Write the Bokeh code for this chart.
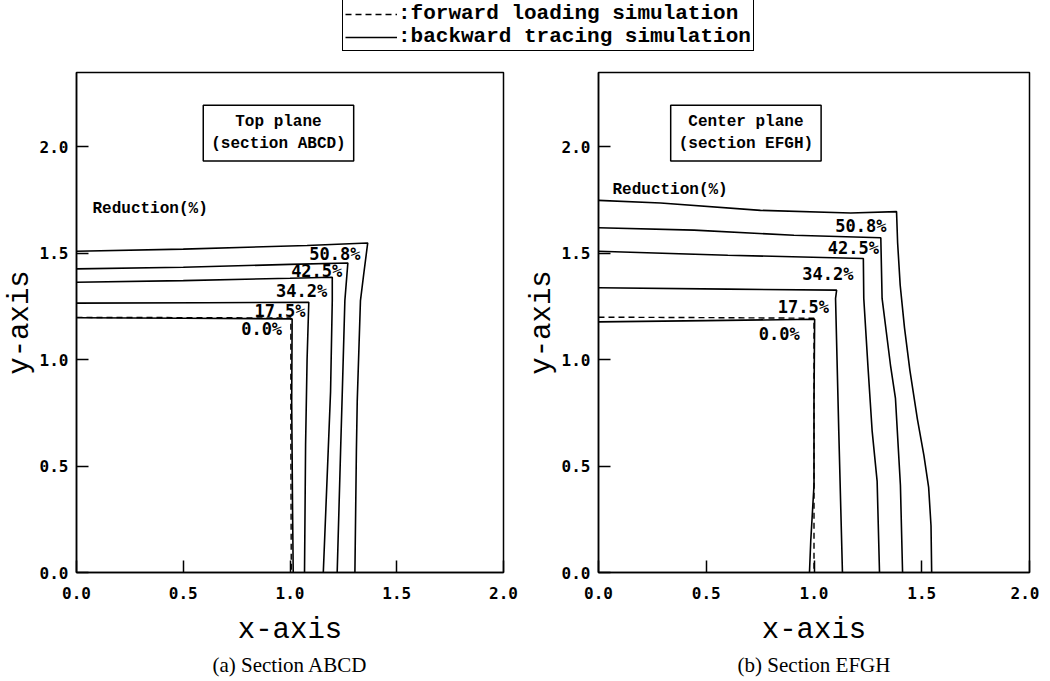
from bokeh.plotting import figure
from bokeh.models import (Range1d, Label, Legend, LegendItem, Title, FixedTicker,
                          PrintfTickFormatter, ColumnDataSource)
from bokeh.layouts import column, row
from bokeh.core.properties import value
from bokeh.embed import file_html
from bokeh.resources import INLINE

# ---------------- data ----------------
levels = ["0.0%", "17.5%", "34.2%", "42.5%", "50.8%"]
tick_values = [0.0, 0.5, 1.0, 1.5, 2.0]

# (a) Section ABCD - backward tracing (solid)
abcd_00_x = [0.0, 0.5, 1.010, 1.008, 1.012, 1.015]
abcd_00_y = [1.197, 1.195, 1.192, 0.80, 0.30, 0.0]
abcd_175_x = [0.0, 0.6, 1.088, 1.080, 1.073, 1.068]
abcd_175_y = [1.266, 1.268, 1.270, 1.00, 0.60, 0.0]
abcd_342_x = [0.0, 0.5, 1.0, 1.198, 1.198, 1.190, 1.179, 1.156]
abcd_342_y = [1.364, 1.372, 1.383, 1.388, 1.278, 0.85, 0.573, 0.0]
abcd_425_x = [0.0, 0.5, 1.0, 1.271, 1.257, 1.245, 1.237, 1.221]
abcd_425_y = [1.427, 1.435, 1.448, 1.455, 1.278, 0.85, 0.573, 0.0]
abcd_508_x = [0.0, 0.5, 1.08, 1.364, 1.345, 1.330, 1.315, 1.311, 1.304]
abcd_508_y = [1.510, 1.520, 1.537, 1.549, 1.40, 1.278, 0.808, 0.573, 0.0]
# (a) forward loading (dashed)
abcd_fw_x = [0.0, 0.5, 1.004, 1.004, 1.006]
abcd_fw_y = [1.199, 1.198, 1.196, 0.60, 0.0]

# (b) Section EFGH - backward tracing (solid)
efgh_00_x = [0.0, 0.5, 1.003, 1.0, 1.0, 0.985, 0.979]
efgh_00_y = [1.178, 1.184, 1.190, 0.80, 0.41, 0.15, 0.0]
efgh_175_x = [0.0, 0.6, 1.105, 1.100, 1.115, 1.132]
efgh_175_y = [1.338, 1.332, 1.327, 1.288, 0.663, 0.0]
efgh_342_x = [0.0, 0.6, 1.229, 1.231, 1.250, 1.270, 1.293, 1.304]
efgh_342_y = [1.510, 1.491, 1.476, 1.288, 0.974, 0.663, 0.428, 0.0]
efgh_425_x = [0.0, 0.443, 0.907, 1.310, 1.316, 1.355, 1.378, 1.401, 1.411]
efgh_425_y = [1.620, 1.609, 1.585, 1.573, 1.288, 0.974, 0.818, 0.41, 0.0]
efgh_508_x = [0.0, 0.288, 0.752, 1.17, 1.383, 1.388, 1.40, 1.42, 1.445, 1.48, 1.51, 1.532, 1.543, 1.546]
efgh_508_y = [1.749, 1.737, 1.702, 1.690, 1.696, 1.55, 1.35, 1.15, 0.95, 0.72, 0.55, 0.40, 0.22, 0.0]
# (b) forward loading (dashed)
efgh_fw_x = [0.0, 0.5, 1.0, 1.0, 1.0]
efgh_fw_y = [1.200, 1.198, 1.195, 0.60, 0.0]

# contour label anchors (right edge / middle)
abcd_label_x = [0.963, 1.073, 1.174, 1.245, 1.330]
abcd_label_y = [1.143, 1.228, 1.325, 1.415, 1.497]
efgh_label_x = [0.934, 1.069, 1.183, 1.301, 1.336]
efgh_label_y = [1.122, 1.247, 1.404, 1.523, 1.628]

legend_labels = [":forward loading simulation", ":backward tracing simulation"]

BLACK = "black"


def make_panel(width, bl, br, title_text, title_x, red_x, red_y, caption,
               contours, fw, lab_x, lab_y):
    p = figure(width=width, height=613, x_range=Range1d(0, 2.0), y_range=Range1d(0, 2.35),
               output_backend="svg", toolbar_location=None,
               min_border_left=bl, min_border_right=br, min_border_top=8, min_border_bottom=105)
    p.grid.visible = False
    p.outline_line_color = BLACK
    p.outline_line_width = 1.5
    p.outline_line_alpha = 1.0
    for ax in (p.xaxis[0], p.yaxis[0]):
        ax.ticker = FixedTicker(ticks=tick_values)
        ax.formatter = PrintfTickFormatter(format="%.1f")
        ax.major_tick_in = 12
        ax.major_tick_out = 0
        ax.minor_tick_line_color = None
        ax.axis_line_width = 1.5
        ax.axis_line_color = BLACK
        ax.major_tick_line_width = 1.5
        ax.major_tick_line_color = BLACK
        ax.major_label_text_font = "DejaVu Sans Mono"
        ax.major_label_text_font_style = "bold"
        ax.major_label_text_font_size = "16px"
        ax.major_label_text_color = BLACK
        ax.axis_label_text_font = "Liberation Mono"
        ax.axis_label_text_font_size = "29px"
        ax.axis_label_text_font_style = "normal"
        ax.axis_label_text_color = BLACK
    p.xaxis.major_label_standoff = 14
    p.xaxis.axis_label_standoff = 12
    p.yaxis.major_label_standoff = 8
    p.yaxis.axis_label_standoff = 0
    p.xaxis.axis_label = "x-axis"
    p.yaxis.axis_label = "y-axis"
    p.yaxis.major_label_orientation = "horizontal"

    for cx, cy in contours:
        p.line(cx, cy, line_color=BLACK, line_width=1.6)
    p.line(fw[0], fw[1], line_color=BLACK, line_width=1.4, line_dash="6 4")

    src = ColumnDataSource(dict(x=lab_x, y=lab_y, t=levels))
    p.text(x="x", y="y", text="t", source=src, text_align="right", text_baseline="middle",
           text_font=value("DejaVu Sans Mono"), text_font_style="bold",
           text_font_size="17px", text_color=BLACK)

    p.add_layout(Label(x=title_x, y=2.065, text=title_text, text_align="center",
                       text_baseline="middle", text_font="Liberation Mono",
                       text_font_style="bold", text_font_size="16px", text_color=BLACK,
                       border_line_color=BLACK, border_line_width=1.5,
                       background_fill_color="white", padding=8))
    p.add_layout(Label(x=red_x, y=red_y, text="Reduction(%)", text_align="left",
                       text_baseline="middle", text_font="Liberation Mono",
                       text_font_style="bold", text_font_size="16px", text_color=BLACK))
    p.add_layout(Title(text=caption, align="center", text_font="Liberation Serif",
                       text_font_size="21px", text_font_style="normal", text_color=BLACK,
                       standoff=2),
                 "below")
    return p


left = make_panel(522, 76, 19, "Top plane\n(section ABCD)", 0.946, 0.075, 1.71,
                  "(a) Section ABCD",
                  [(abcd_00_x, abcd_00_y), (abcd_175_x, abcd_175_y), (abcd_342_x, abcd_342_y),
                   (abcd_425_x, abcd_425_y), (abcd_508_x, abcd_508_y)],
                  (abcd_fw_x, abcd_fw_y), abcd_label_x, abcd_label_y)
right = make_panel(517, 76, 10, "Center plane\n(section EFGH)", 0.684, 0.065, 1.80,
                   "(b) Section EFGH",
                   [(efgh_00_x, efgh_00_y), (efgh_175_x, efgh_175_y), (efgh_342_x, efgh_342_y),
                    (efgh_425_x, efgh_425_y), (efgh_508_x, efgh_508_y)],
                   (efgh_fw_x, efgh_fw_y), efgh_label_x, efgh_label_y)

# ---------------- legend strip ----------------
top = figure(width=1039, height=64, x_range=Range1d(0, 1), y_range=Range1d(0, 1),
             output_backend="svg", toolbar_location=None, x_axis_location=None,
             y_axis_location=None, min_border=0)
top.grid.visible = False
top.outline_line_color = None
# legend-only renderers (placed outside the visible range)
r_fw = top.line(x=[-2, -1], y=[-2, -2], line_color=BLACK, line_width=1.4, line_dash="6 4")
r_bt = top.line(x=[-2, -1], y=[-2, -2], line_color=BLACK, line_width=1.6)
legend = Legend(items=[LegendItem(label=legend_labels[0], renderers=[r_fw]),
                       LegendItem(label=legend_labels[1], renderers=[r_bt])],
                location=(342, 13), orientation="vertical",
                border_line_color=BLACK, border_line_width=1.5, border_line_alpha=1.0,
                background_fill_alpha=0.0,
                label_text_font="Liberation Mono", label_text_font_style="bold",
                label_text_font_size="21px", label_text_color=BLACK,
                glyph_width=52, glyph_height=16, label_height=16, label_standoff=1,
                spacing=0, padding=2, margin=0)
top.add_layout(legend)

layout = column(top, row(left, right))
open("out.html", "w").write(file_html(layout, INLINE))
